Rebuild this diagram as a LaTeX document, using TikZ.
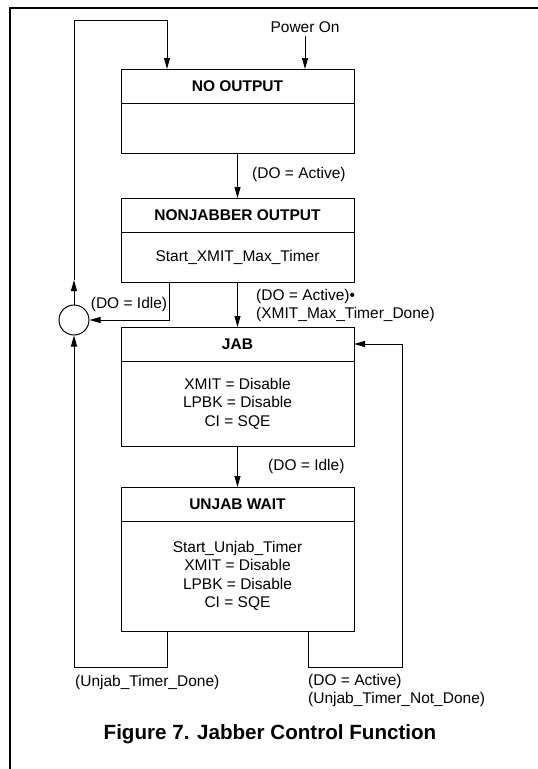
\documentclass[tikz,border=0pt]{standalone}
\usepackage{fontspec}
\setmainfont{Liberation Sans}
\usetikzlibrary{positioning, arrows.meta}

\begin{document}
\begin{tikzpicture}[x=1pt, y=-1pt,
		every node/.style={font=\fontsize{15.5}{18.5}\selectfont},
		title/.style={draw, line width=1pt, outer sep=0pt, inner sep=0pt, minimum width=233pt, minimum height=34pt, font=\fontsize{15.5}{18.5}\selectfont\bfseries},
		body/.style={draw, line width=1pt, outer sep=0pt, inner sep=0pt, minimum width=233pt, align=center},
		lbl/.style={inner sep=0pt, align=left},
		arr/.style={-{Triangle[length=11pt, width=6pt]}, line width=1pt}]
			\useasboundingbox	(0, 0) rectangle (538, 769);
			\draw	[line width=2pt]	(538, 8) -- (10, 8) -- (10, 769);

			% states
			\node	(NO)	at	(237.5, 86)		[title]	{NO OUTPUT};
			\node	(NOb)	[body, minimum height=50pt, below=0pt of NO]	{};
			\node	(NJ)	at	(237.5, 215)	[title]	{NONJABBER OUTPUT};
			\node	(NJb)	[body, minimum height=50pt, below=0pt of NJ]	{Start\_XMIT\_Max\_Timer};
			\node	(JAB)	at	(237.5, 344)	[title]	{JAB};
			\node	(JABb)	[body, minimum height=85pt, below=0pt of JAB]	{XMIT = Disable\\LPBK = Disable\\CI = SQE};
			\node	(UW)	at	(237.5, 504)	[title]	{UNJAB WAIT};
			\node	(UWb)	[body, minimum height=110pt, below=0pt of UW]	{Start\_Unjab\_Timer\\XMIT = Disable\\LPBK = Disable\\CI = SQE};
			\node	(R)		at	(74, 320)		[circle, draw, line width=1pt, minimum size=30pt, inner sep=0pt]	{};
			\node	(P)		at	(305, 27)		{Power On};

			% free ends
			\coordinate	(I)	at	(169, 282);
			\coordinate	(U)	at	(74, 280);
			\coordinate	(T)	at	(74, 20);
			\coordinate	(N)	at	(167, 69);
			\coordinate	(L)	at	(167, 631);
			\coordinate	(Q)	at	(308, 631);

			\draw	[arr]	(P)		--	(P |- NO.north);
			\draw	[arr]	(NOb)	--	(NJ);
			\draw	[arr]	(NJb)	--	(JAB);
			\draw	[arr]	(JABb)	--	(UW);
			\draw	[arr]	(I)		|-	(R);
			\draw	[arr]	(R)		--	(U);
			\draw	[arr]	(U)		--	(T) -| (N);
			\draw	[arr]	(L)		--	++(0, 36) -| (R);
			\draw	[arr]	(Q)		--	++(0, 36) -- ++(94, 0) |- (JAB);

			% labels
			\node	(a1)	at	(252, 174)		[lbl, anchor=west]	{(DO = Active)};
			\node	(a2)	at	(256, 305.5)	[lbl, anchor=west]	{(DO = Active)•\\(XMIT\_Max\_Timer\_Done)};
			\node	(a3)	at	(129, 304)		[lbl]				{(DO = Idle)};
			\node	(a4)	at	(268, 466)		[lbl, anchor=west]	{(DO = Idle)};
			\node	(a5)	at	(75, 682)		[lbl, anchor=west]	{(Unjab\_Timer\_Done)};
			\node	(a6)	at	(308, 690.5)	[lbl, anchor=west]	{(DO = Active)\\(Unjab\_Timer\_Not\_Done)};
			\node	(F)		at	(270, 734)		[font=\fontsize{20.6}{24}\selectfont\bfseries]	{Figure 7. Jabber Control Function};
		\end{tikzpicture}
\end{document}
